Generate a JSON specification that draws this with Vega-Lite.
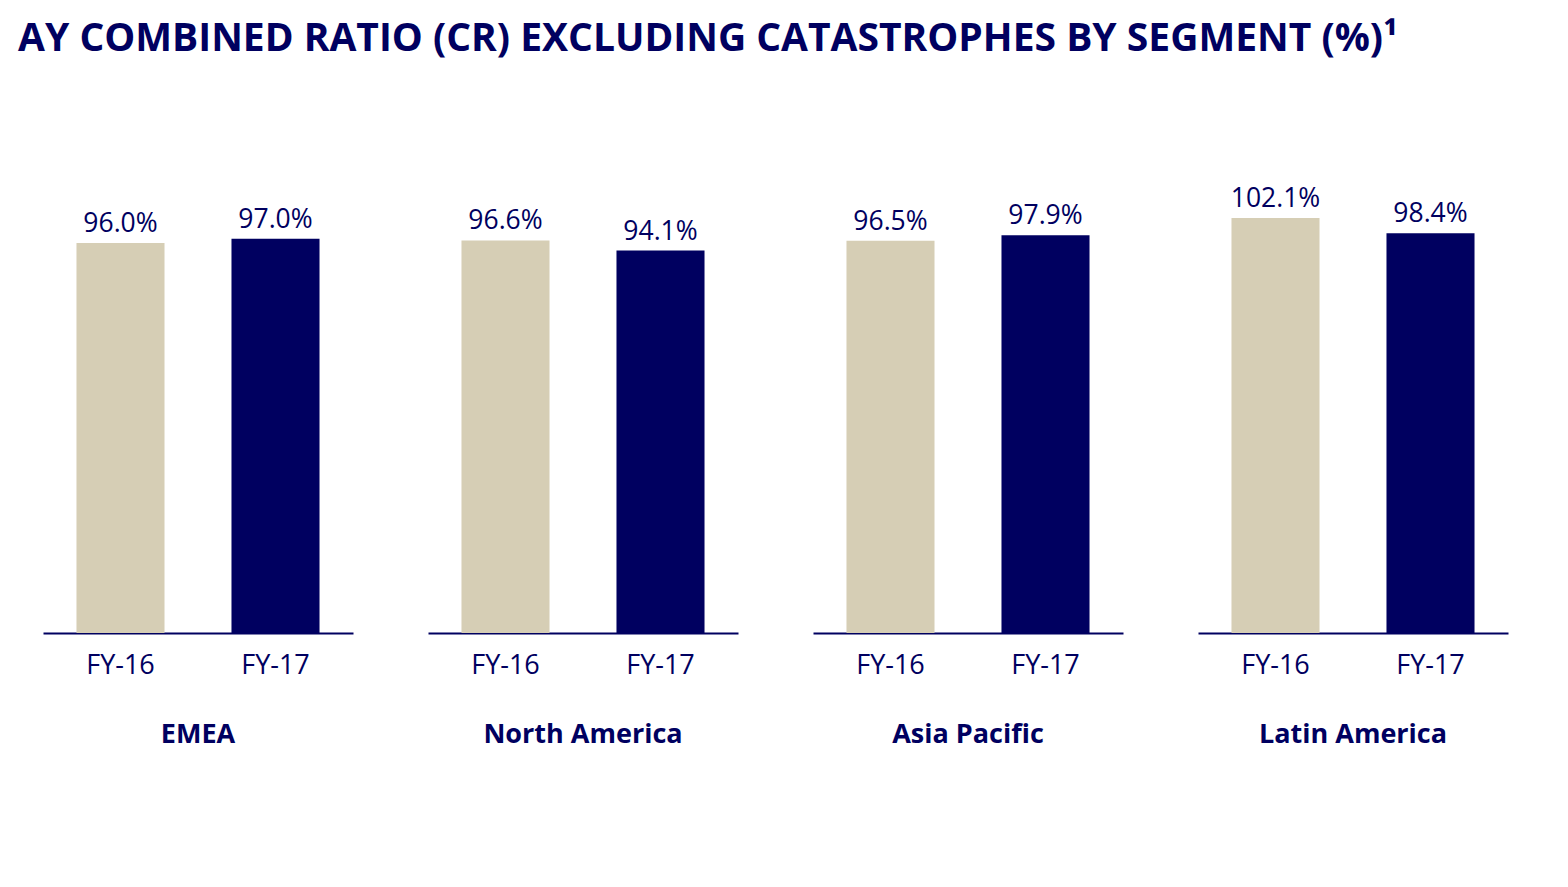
{
  "$schema": "https://vega.github.io/schema/vega-lite/v6.json",
  "background": "white",
  "padding": {"left": 18, "top": 20, "right": 10, "bottom": 10},
  "title": {
    "text": "AY COMBINED RATIO (CR) EXCLUDING CATASTROPHES BY SEGMENT (%)¹",
    "anchor": "start",
    "dx": -25,
    "font": "Open Sans",
    "fontSize": 39,
    "fontWeight": "bold",
    "color": "#000060",
    "offset": 127
  },
  "data": {
    "values": [
      {"segment": "EMEA", "year": "FY-16", "value": 96.0, "label": "96.0%"},
      {"segment": "EMEA", "year": "FY-17", "value": 97.0, "label": "97.0%"},
      {"segment": "North America", "year": "FY-16", "value": 96.6, "label": "96.6%"},
      {"segment": "North America", "year": "FY-17", "value": 94.1, "label": "94.1%"},
      {"segment": "Asia Pacific", "year": "FY-16", "value": 96.5, "label": "96.5%"},
      {"segment": "Asia Pacific", "year": "FY-17", "value": 97.9, "label": "97.9%"},
      {"segment": "Latin America", "year": "FY-16", "value": 102.1, "label": "102.1%"},
      {"segment": "Latin America", "year": "FY-17", "value": 98.4, "label": "98.4%"}
    ]
  },
  "facet": {
    "column": {
      "field": "segment",
      "sort": ["EMEA", "North America", "Asia Pacific", "Latin America"],
      "header": {
        "title": null,
        "labelOrient": "bottom",
        "labelFont": "Open Sans",
        "labelFontSize": 27,
        "labelFontWeight": "bold",
        "labelColor": "#000060",
        "labelPadding": 44
      }
    }
  },
  "spacing": 75,
  "spec": {
    "width": 310,
    "height": 447,
    "encoding": {
      "x": {
        "field": "year",
        "type": "nominal",
        "scale": {"paddingInner": 0.432, "paddingOuter": 0.216},
        "axis": {
          "title": null,
          "labelAngle": 0,
          "ticks": false,
          "domainColor": "#000060",
          "domainWidth": 2,
          "labelFont": "Open Sans",
          "labelFontSize": 27,
          "labelColor": "#000060",
          "labelPadding": 19
        }
      },
      "y": {
        "field": "value",
        "type": "quantitative",
        "scale": {"domain": [0, 110], "nice": false},
        "axis": null
      }
    },
    "layer": [
      {
        "mark": {"type": "bar"},
        "encoding": {
          "color": {
            "field": "year",
            "type": "nominal",
            "scale": {"domain": ["FY-16", "FY-17"], "range": ["#D6CEB5", "#000060"]},
            "legend": null
          }
        }
      },
      {
        "mark": {"type": "text", "baseline": "alphabetic", "dy": -11, "font": "Open Sans", "fontSize": 26.5, "color": "#000060"},
        "encoding": {"text": {"field": "label"}}
      }
    ]
  },
  "config": {"view": {"stroke": null}}
}
